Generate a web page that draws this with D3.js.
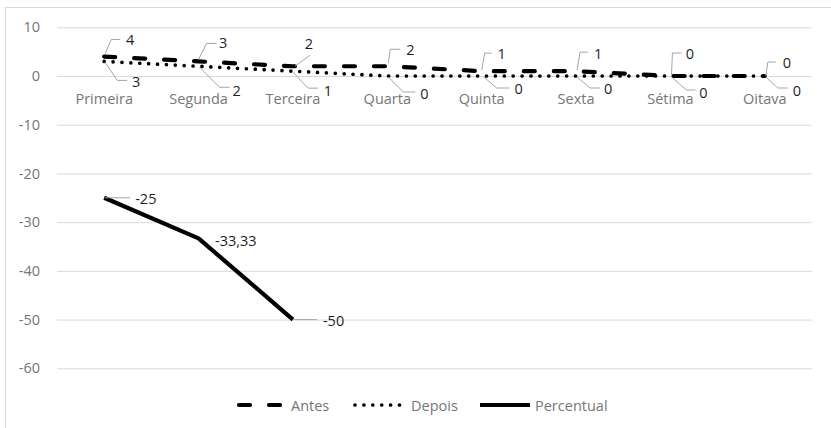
<!DOCTYPE html>
<html>
<head>
<meta charset="utf-8">
<script src="https://cdn.jsdelivr.net/npm/d3@7"></script>
<style>
  html, body { margin: 0; padding: 0; background: #fff; }
  svg { display: block; }
  text { font-family: "Open Sans", "Noto Sans", sans-serif; }
</style>
</head>
<body>
<svg id="chart" width="831" height="428"></svg>
<script>
// Categories and series
const categories = ["Primeira", "Segunda", "Terceira", "Quarta", "Quinta", "Sexta", "Sétima", "Oitava"];
const antes = [4, 3, 2, 2, 1, 1, 0, 0];
const depois = [3, 2, 1, 0, 0, 0, 0, 0];
const percentual = [-25, -33.33, -50, null, null, null, null, null];
const yTicks = [10, 0, -10, -20, -30, -40, -50, -60];

// Data label placement relative to each point: text centre (tx, ty) and leader polyline
const antesLabelPos = [
  { tx: 26, ty: -17, lead: [[1, -3], [7, -17], [16, -17]] },
  { tx: 24.5, ty: -18.5, lead: [[0, -2], [8, -18], [18, -18]] },
  { tx: 16, ty: -23, lead: [[2, 0], [17, -11]] },
  { tx: 23, ty: -17, lead: [[1, -3], [3, -17], [13, -17]] },
  { tx: 20, ty: -18, lead: [[0, -1], [3, -18], [10, -18]] },
  { tx: 22, ty: -18, lead: [[1, -1], [4, -19], [12, -19]] },
  { tx: 19.5, ty: -23, lead: [[1, 0], [2, -23], [11, -23]] },
  { tx: 22, ty: -14, lead: [[1, 0], [3, -14], [11, -14]] }
];
const depoisLabelPos = [
  { tx: 32, ty: 20.5, lead: [[1, 1], [13, 19], [23, 19]] },
  { tx: 38, ty: 24, lead: [[1, 1], [21, 21], [31, 21]] },
  { tx: 35, ty: 19, lead: [[0, 1], [15, 17], [25, 17]] },
  { tx: 37, ty: 17, lead: [[1, 1], [16, 16], [28, 16]] },
  { tx: 37, ty: 12, lead: [[2, 1], [15, 12], [28, 12]] },
  { tx: 32, ty: 12, lead: [[1, 1], [14, 12], [24, 12]] },
  { tx: 33, ty: 16, lead: [[1, 1], [16, 14], [25, 14]] },
  { tx: 32, ty: 14, lead: [[1, 1], [13, 12], [23, 12]] }
];
const percLabelPos = [
  { tx: 31, ty: 1, lead: [[1, 0], [26, 0]] },
  { tx: 16.5, ty: 2.5, lead: null },
  { tx: 30, ty: 1, lead: [[1, 0], [24, 0]] }
];

const svg = d3.select("#chart");
const plot = { left: 57, right: 812, top: 27.3, bottom: 368.3 };

const x = d3.scaleBand().domain(categories).range([plot.left, plot.right]).padding(0);
const cx = c => x(c) + x.bandwidth() / 2;
const y = d3.scaleLinear().domain([-60, 10]).range([plot.bottom, plot.top]);

const axisGray = "#767676";
const labelDark = "#1f1f1f";
const gridColor = "#d9d9d9";
const fontSize = "14.5px";

// Chart border
svg.append("rect")
  .attr("x", 5.5).attr("y", 7.5)
  .attr("width", 900).attr("height", 500)
  .attr("fill", "none").attr("stroke", gridColor).attr("stroke-width", 1);

// Horizontal gridlines
const yAxis = d3.axisLeft(y).tickValues(yTicks)
  .tickSize(-(plot.right - plot.left)).tickPadding(17)
  .tickFormat(d => String(d));
const gy = svg.append("g").attr("transform", `translate(${plot.left},0)`).call(yAxis);
gy.select(".domain").remove();
gy.selectAll(".tick line").attr("stroke", gridColor).attr("stroke-width", 1);
gy.selectAll(".tick text")
  .attr("fill", axisGray).style("font-size", fontSize)
  .style("font-family", "'Open Sans', sans-serif");

// Category labels, placed under the zero line
svg.append("g").selectAll("text").data(categories).join("text")
  .attr("x", d => cx(d)).attr("y", y(0) + 22)
  .attr("text-anchor", "middle").attr("dominant-baseline", "central")
  .attr("fill", axisGray).style("font-size", fontSize)
  .text(d => d);

const lineGen = d3.line()
  .defined(d => d.v !== null)
  .x(d => cx(d.c)).y(d => y(d.v));

const toPts = arr => arr.map((v, i) => ({ c: categories[i], v }));

// Antes: long dashes
svg.append("path").datum(toPts(antes))
  .attr("d", lineGen).attr("fill", "none")
  .attr("stroke", "#000").attr("stroke-width", 4.2)
  .attr("stroke-linecap", "round").attr("stroke-linejoin", "round")
  .attr("stroke-dasharray", "11,19");

// Depois: round dots
svg.append("path").datum(toPts(depois))
  .attr("d", lineGen).attr("fill", "none")
  .attr("stroke", "#000").attr("stroke-width", 3.7)
  .attr("stroke-linecap", "round")
  .attr("stroke-dasharray", "0,8.9");

// Percentual: solid
svg.append("path").datum(toPts(percentual))
  .attr("d", lineGen).attr("fill", "none")
  .attr("stroke", "#000").attr("stroke-width", 4.2)
  .attr("stroke-linejoin", "round");

// Data labels with leader lines
const fmt = v => String(v).replace(".", ",");
function drawLabels(values, pos, anchor) {
  const g = svg.append("g");
  values.forEach((v, i) => {
    if (v === null || !pos[i]) return;
    const px = cx(categories[i]), py = y(v);
    const p = pos[i];
    if (p.lead) {
      g.append("polyline")
        .attr("points", p.lead.map(([dx, dy]) => `${px + dx},${py + dy}`).join(" "))
        .attr("fill", "none").attr("stroke", "#a6a6a6").attr("stroke-width", 1);
    }
    g.append("text")
      .attr("x", px + p.tx).attr("y", py + p.ty)
      .attr("text-anchor", anchor).attr("dominant-baseline", "central")
      .attr("fill", labelDark).style("font-size", fontSize)
      .text(fmt(v));
  });
}
drawLabels(antes, antesLabelPos, "middle");
drawLabels(depois, depoisLabelPos, "middle");
drawLabels(percentual, percLabelPos, "start");

// Legend
const legendY = 405;
const legendItems = [
  { name: "Antes", x1: 239, x2: 280, dash: "11,19", w: 4.2, cap: "round" },
  { name: "Depois", x1: 355, x2: 400, dash: "0,8.9", w: 3.7, cap: "round" },
  { name: "Percentual", x1: 480, x2: 530, dash: null, w: 4.2, cap: "butt" }
];
const lg = svg.append("g");
legendItems.forEach(it => {
  lg.append("line")
    .attr("x1", it.x1).attr("x2", it.x2).attr("y1", legendY).attr("y2", legendY)
    .attr("stroke", "#000").attr("stroke-width", it.w)
    .attr("stroke-linecap", it.cap)
    .attr("stroke-dasharray", it.dash);
  lg.append("text")
    .attr("x", it.x2 + (it.name === "Percentual" ? 5 : 11)).attr("y", legendY)
    .attr("dominant-baseline", "central")
    .attr("fill", axisGray).style("font-size", fontSize)
    .text(it.name);
});
</script>
</body>
</html>
